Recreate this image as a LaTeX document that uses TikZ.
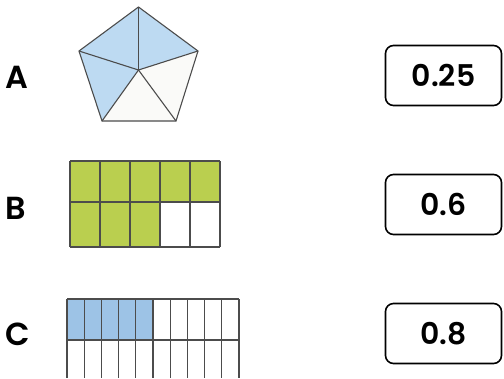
\documentclass[tikz,border=0pt]{standalone}
\usepackage{fontspec}
\setmainfont{Poppins}[BoldFont={Poppins SemiBold}]
\usepackage{xcolor}
\usepackage{tikz}
\usetikzlibrary{positioning}
\definecolor{paleblue}{RGB}{189,218,242}
\definecolor{gridblue}{RGB}{157,195,230}
\definecolor{limegreen}{RGB}{186,207,79}
\definecolor{offwhite}{RGB}{250,250,248}
\tikzstyle{letter} = [font=\bfseries\fontsize{32}{32}\selectfont, inner sep=0pt]
\tikzstyle{answer} = [rectangle, rounded corners=8bp, minimum width=116bp,
 minimum height=60bp, line width=1.6bp, draw=black,
 font=\bfseries\fontsize{30}{30}\selectfont]
\tikzstyle{edge} = [line width=1.1bp, draw=black!70]

\begin{document}
\begin{tikzpicture}[x=1bp, y=-1bp]
\useasboundingbox (0,0) rectangle (504,378);
% row labels
\node(labA) [letter] at (17,77) {A};
\node(labB) [letter] at (16,208) {B};
\node(labC) [letter] at (18,334) {C};
% answer boxes
\node(boxA) [answer] at (443.5,75.5) {0.25};
\node(boxB) [answer] at (443.5,204.5) {0.6};
\node(boxC) [answer] at (443.5,333.5) {0.8};
% pentagon
\coordinate (ctr) at (138.5,70);
\coordinate (ptop) at (138.5,7);
\coordinate (pleft) at (79,51);
\coordinate (pright) at (198,51);
\coordinate (pbl) at (102,121);
\coordinate (pbr) at (176,121);
\fill[paleblue] (ptop) -- (pright) -- (ctr) -- (pbl) -- (pleft) -- cycle;
\fill[offwhite] (ctr) -- (pright) -- (pbr) -- (pbl) -- cycle;
\draw[edge] (ptop) -- (pright) -- (pbr) -- (pbl) -- (pleft) -- cycle;
\foreach \p in {ptop,pright,pbr,pbl,pleft}
 \draw[edge] (ctr) -- (\p);
% green grid
\fill[limegreen] (70,161) rectangle (220,202);
\fill[limegreen] (70,202) rectangle (160,247);
\foreach \x in {70,100,...,220}
 \draw[edge] (\x,161) -- (\x,247);
\foreach \y in {161,202,247}
 \draw[edge] (70,\y) -- (220,\y);
% tenths grid
\fill[gridblue] (67,299) rectangle (153,340);
\foreach \i in {0,...,10}
 \draw[edge] (67+17.2*\i,299) -- (67+17.2*\i,378);
\foreach \y in {299,340}
 \draw[edge] (67,\y) -- (239,\y);
\end{tikzpicture}
\end{document}
